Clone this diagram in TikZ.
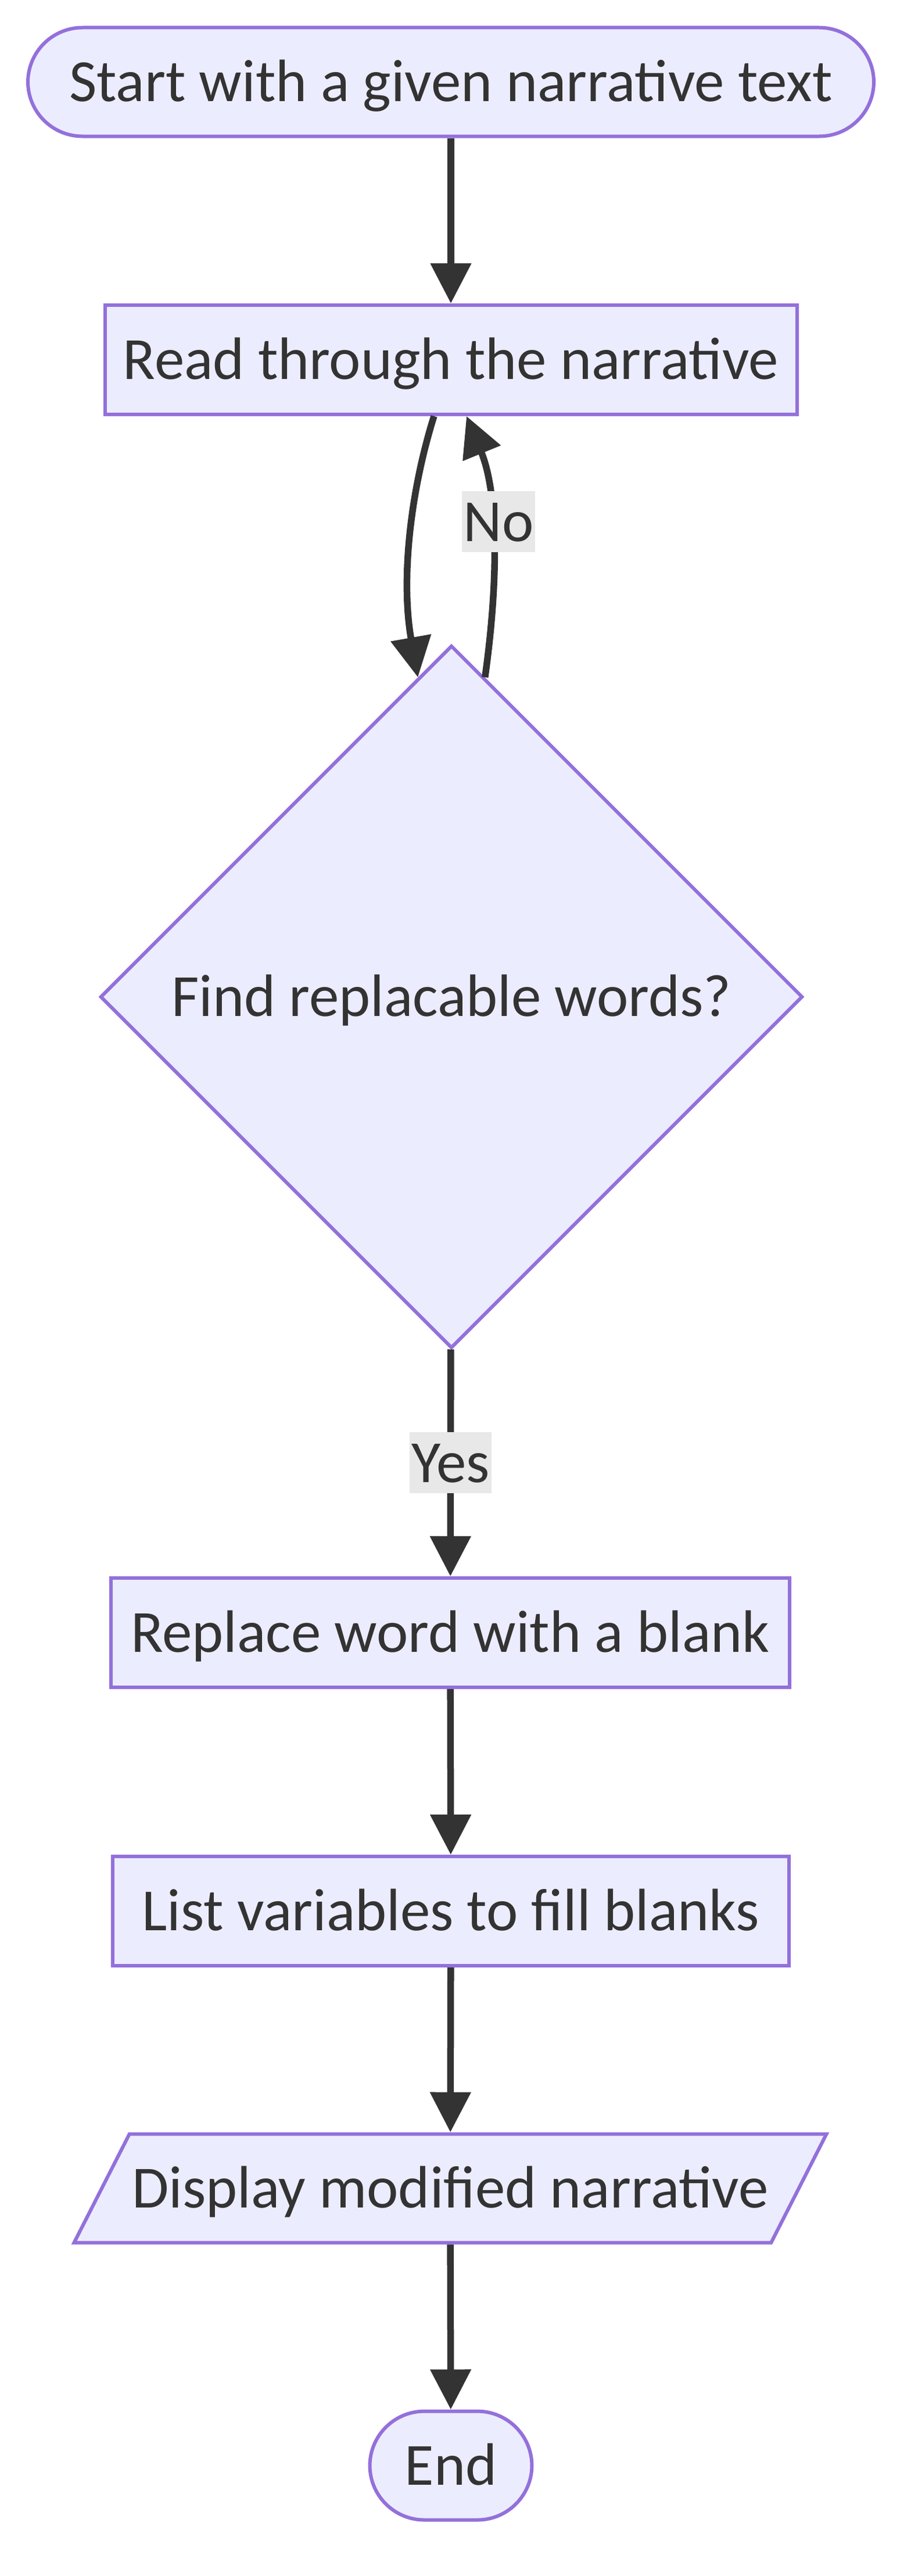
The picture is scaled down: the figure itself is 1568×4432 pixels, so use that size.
\documentclass[tikz,border=0pt]{standalone}
\usepackage{fontspec}
\setmainfont{Carlito}
\usetikzlibrary{shapes.geometric,arrows.meta}
\definecolor{nodefill}{HTML}{ECECFF}
\definecolor{nodeline}{HTML}{9370DB}
\definecolor{inkgray}{HTML}{333333}
\definecolor{labelfill}{HTML}{E8E8E8}

\begin{document}
\begin{tikzpicture}[x=1pt,y=-1pt,
    every node/.style={font=\fontsize{103}{124}\selectfont, text=inkgray,
        text height=67pt, text depth=0pt},
    box/.style={draw=nodeline, fill=nodefill, line width=6pt, inner sep=0pt},
    stadium/.style={box, rounded corners=94pt, minimum height=187pt},
    process/.style={box, minimum height=188pt},
    decision/.style={box, diamond, aspect=1, minimum width=1209pt, minimum height=1209pt},
    io/.style={box, trapezium, trapezium left angle=63, trapezium right angle=117,
        trapezium stretches body=true, inner ysep=60pt, minimum width=1295pt},
    flow/.style={draw=inkgray, line width=11.5pt, -{Triangle[length=69pt,width=68pt]}},
    edgelabel/.style={fill=labelfill, inner xsep=3pt, inner ysep=19pt}]
                \useasboundingbox (0,0) rectangle (1568,4432);
                \node[stadium, minimum width=1456pt] (start) at (776,141) {Start with a given narrative text};
                \node[process, minimum width=1191pt] (read) at (776,619) {Read through the narrative};
                \node[decision] (decide) at (777,1715) {Find replacable words?};
                \node[process, minimum width=1168pt] (replace) at (775,2809) {Replace word with a blank};
                \node[process, minimum width=1164pt] (list) at (776,3288) {List variables to fill blanks};
                \node[io] (display) at (775,3765) {Display modified narrative};
                \node[stadium, minimum width=279pt] (end) at (776,4242) {End};
                \draw[flow] (start) -- (read);
                \draw[flow] ([xshift=-29pt]read.south) .. controls (705,850) and (690,1000) .. (decide.96);
                \draw[flow] (decide.84) .. controls (858,1000) and (858,850) .. ([xshift=27pt]read.south)
                    node[edgelabel, pos=0.57, xshift=12pt] {No};
                \draw[flow] (decide) -- node[edgelabel] {Yes} (replace);
                \draw[flow] (replace) -- (list);
                \draw[flow] (list) -- (display);
                \draw[flow] (display) -- (end);
            \end{tikzpicture}
\end{document}
